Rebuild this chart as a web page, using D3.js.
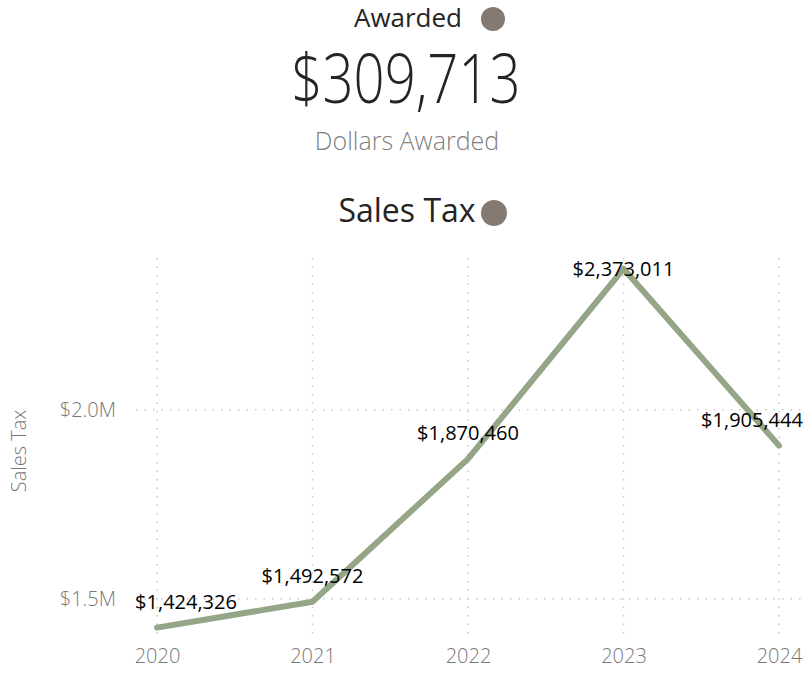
<!DOCTYPE html>
<html>
<head>
<meta charset="utf-8">
<script src="https://cdn.jsdelivr.net/npm/d3@7"></script>
<style>
  body { margin: 0; background: #fff; }
  svg { font-family: "Segoe UI", "Open Sans", sans-serif; }
</style>
</head>
<body>
<svg id="chart" width="803" height="676"></svg>
<script>
// card + line chart data
var cardTitle = "Awarded";
var cardValue = 309713;
var cardLabel = "Dollars Awarded";
var chartTitle = "Sales Tax";
var years = ["2020", "2021", "2022", "2023", "2024"];
var salesTax = [1424326, 1492572, 1870460, 2373011, 1905444];
var yTicks = [1500000, 2000000];

var svg = d3.select("#chart");
var fmt = d3.format("$,.0f");
var font = "'Segoe UI', 'Open Sans', sans-serif";

// Card on top
svg.append("text")
    .attr("x", 408).attr("y", 27)
    .attr("text-anchor", "middle")
    .attr("font-size", 26)
    .attr("fill", "#252423")
    .text(cardTitle);
svg.append("circle")
    .attr("cx", 493).attr("cy", 19).attr("r", 12)
    .attr("fill", "#857a72");

svg.append("text")
    .attr("x", 406).attr("y", 103)
    .attr("text-anchor", "middle")
    .attr("font-size", 68)
    .attr("font-weight", 300)
    .attr("fill", "#252423")
    .attr("textLength", 229)
    .attr("lengthAdjust", "spacingAndGlyphs")
    .text(fmt(cardValue));

svg.append("text")
    .attr("x", 407).attr("y", 150)
    .attr("text-anchor", "middle")
    .attr("font-size", 25)
    .attr("font-weight", 300)
    .attr("fill", "#7f7f7f")
    .text(cardLabel);

// Chart title
svg.append("text")
    .attr("x", 407).attr("y", 222)
    .attr("text-anchor", "middle")
    .attr("font-size", 32)
    .attr("fill", "#252423")
    .text(chartTitle);
svg.append("circle")
    .attr("cx", 494).attr("cy", 213).attr("r", 13)
    .attr("fill", "#857a72");

// Scales
var x = d3.scalePoint()
    .domain(years)
    .range([157, 779]);

var y = d3.scaleLinear()
    .domain([1391500, 2401500])
    .range([640, 258]);

// Gridlines
var grid = svg.append("g")
    .attr("stroke", "#c8c8c8")
    .attr("stroke-width", 1.5)
    .attr("stroke-dasharray", "1.5,7");

grid.selectAll(".vg")
    .data(years)
    .join("line")
    .attr("x1", d => x(d)).attr("x2", d => x(d))
    .attr("y1", 258).attr("y2", 640);

grid.selectAll(".hg")
    .data(yTicks)
    .join("line")
    .attr("x1", 136).attr("x2", 803)
    .attr("y1", d => y(d)).attr("y2", d => y(d));

// Axes (text only, like Power BI)
var xAxis = svg.append("g")
    .attr("transform", "translate(0,640)")
    .call(d3.axisBottom(x).tickSize(0).tickPadding(9))
    .attr("font-family", font);
xAxis.select(".domain").remove();
xAxis.selectAll("text")
    .attr("font-size", 20)
    .attr("font-weight", 300)
    .attr("fill", "#777");

var yAxis = svg.append("g")
    .attr("transform", "translate(116,0)")
    .call(d3.axisLeft(y).tickValues(yTicks).tickSize(0).tickPadding(0)
        .tickFormat(d => "$" + d3.format(".1f")(d / 1e6) + "M"))
    .attr("font-family", font);
yAxis.select(".domain").remove();
yAxis.selectAll("text")
    .attr("font-size", 20)
    .attr("font-weight", 300)
    .attr("fill", "#777");

svg.append("text")
    .attr("transform", "translate(26,451) rotate(-90)")
    .attr("text-anchor", "middle")
    .attr("font-size", 20)
    .attr("font-weight", 300)
    .attr("fill", "#777")
    .text("Sales Tax");

// Line
var line = d3.line()
    .x((d, i) => x(years[i]))
    .y(d => y(d));

svg.append("path")
    .datum(salesTax)
    .attr("fill", "none")
    .attr("stroke", "#94a687")
    .attr("stroke-width", 6)
    .attr("stroke-linecap", "round")
    .attr("stroke-linejoin", "round")
    .attr("d", line);

// Data labels, kept inside the plot area
var labels = svg.append("g")
    .attr("font-size", 20)
    .attr("fill", "#000");

labels.selectAll("text")
    .data(salesTax)
    .join("text")
    .attr("text-anchor", "middle")
    .attr("x", (d, i) => {
        var cx = x(years[i]);
        return Math.max(186, Math.min(752, cx));
    })
    .attr("y", d => Math.max(276, y(d) - 19))
    .text(d => fmt(d));
</script>
</body>
</html>
